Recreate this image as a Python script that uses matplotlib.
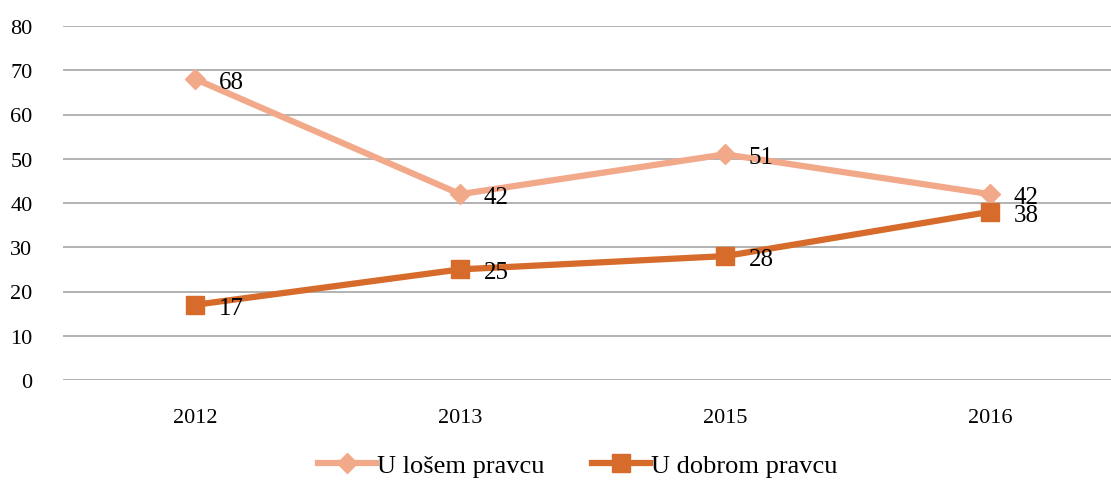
import matplotlib
matplotlib.use('Agg')
import matplotlib.pyplot as plt

years = ['2012', '2013', '2015', '2016']
losem = [68, 42, 51, 42]
dobrom = [17, 25, 28, 38]
yticks = [0, 10, 20, 30, 40, 50, 60, 70, 80]

plt.rcParams['font.family'] = ['Liberation Serif', 'DejaVu Serif']

fig = plt.figure(figsize=(11.11, 4.85), dpi=100)
ax = fig.add_axes([63 / 1111, 104 / 485, 1 - 63 / 1111, 354 / 485])

x = list(range(len(years)))
c_losem = '#F2A98A'
c_dobrom = '#D66B2B'

ax.plot(x, losem, color=c_losem, linewidth=4.5, marker='D', markersize=10,
        label='U lošem pravcu', zorder=3)
ax.plot(x, dobrom, color=c_dobrom, linewidth=4.5, marker='s', markersize=13,
        label='U dobrom pravcu', zorder=3)

for xi, v in zip(x, losem):
    ax.annotate(str(v), (xi, v), xytext=(17, -2), textcoords='offset points',
                ha='left', va='center', fontsize=18, color='black')
for xi, v in zip(x, dobrom):
    ax.annotate(str(v), (xi, v), xytext=(17, -2), textcoords='offset points',
                ha='left', va='center', fontsize=18, color='black')

ax.set_xlim(-0.5, 3.457)
ax.set_ylim(0, 80)
ax.set_yticks(yticks)
ax.set_xticks(x)
ax.set_xticklabels(years)
ax.tick_params(axis='both', length=0, labelsize=16)
ax.tick_params(axis='y', pad=22)
ax.tick_params(axis='x', pad=20)
ax.grid(axis='y', color='#A6A6A6', linewidth=1.2)
ax.set_axisbelow(True)
for s in ax.spines.values():
    s.set_visible(False)

fig.legend(loc='lower center', bbox_to_anchor=(0.52, -0.035), ncol=2, frameon=False,
           fontsize=19, handlelength=2.2, columnspacing=1.8, handletextpad=0.05)

fig.savefig('out.png', dpi=100)
